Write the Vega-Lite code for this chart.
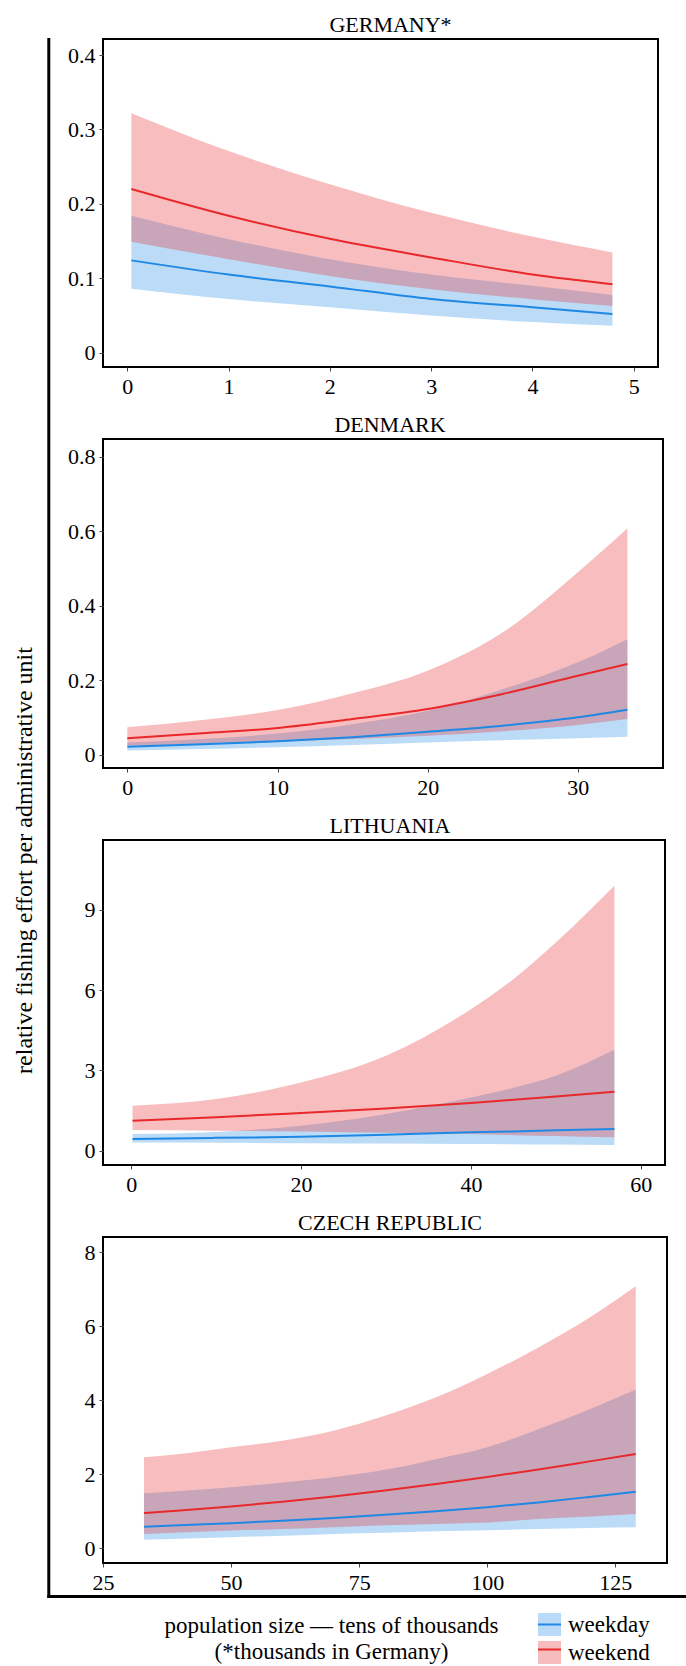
{
  "$schema": "https://vega.github.io/schema/vega-lite/v6.json",
  "padding": {"left": 11, "top": 13, "right": 0, "bottom": 0},
  "background": "white",
  "bounds": "flush",
  "spacing": 72,
  "config": {
    "font": "Liberation Serif",
    "view": {"stroke": "black", "strokeWidth": 2},
    "title": {"font": "Liberation Serif", "fontSize": 22, "fontWeight": "normal", "color": "black", "anchor": "middle", "baseline": "alphabetic", "offset": 2, "frame": "group"},
    "axis": {"labelFont": "Liberation Serif", "labelFontSize": 22, "labelColor": "black", "tickColor": "#444", "tickSize": 4, "tickWidth": 1, "labelPadding": 4, "domain": false, "grid": false, "labelFlush": false, "labelOverlap": false, "titleFont": "Liberation Serif"},
    "axisX": {"labelPadding": 5}
  },
  "datasets": {
    "germany": [
      {"x": 0.04, "period": "weekday", "fit": 0.124, "lo": 0.086, "hi": 0.184},
      {"x": 1, "period": "weekday", "fit": 0.105, "lo": 0.072, "hi": 0.1525},
      {"x": 2, "period": "weekday", "fit": 0.089, "lo": 0.061, "hi": 0.1256},
      {"x": 3, "period": "weekday", "fit": 0.072, "lo": 0.05, "hi": 0.105},
      {"x": 4, "period": "weekday", "fit": 0.061, "lo": 0.041, "hi": 0.0897},
      {"x": 4.79, "period": "weekday", "fit": 0.052, "lo": 0.036, "hi": 0.0775},
      {"x": 0.04, "period": "weekend", "fit": 0.22, "lo": 0.149, "hi": 0.322},
      {"x": 1, "period": "weekend", "fit": 0.184, "lo": 0.1256, "hi": 0.271},
      {"x": 2, "period": "weekend", "fit": 0.153, "lo": 0.103, "hi": 0.2265},
      {"x": 3, "period": "weekend", "fit": 0.128, "lo": 0.085, "hi": 0.188},
      {"x": 4, "period": "weekend", "fit": 0.105, "lo": 0.0717, "hi": 0.156},
      {"x": 4.79, "period": "weekend", "fit": 0.092, "lo": 0.0628, "hi": 0.1346}
    ],
    "denmark": [
      {"x": 0, "period": "weekday", "fit": 0.0215, "lo": 0.011, "hi": 0.033},
      {"x": 5, "period": "weekday", "fit": 0.028, "lo": 0.015, "hi": 0.042},
      {"x": 10, "period": "weekday", "fit": 0.036, "lo": 0.02, "hi": 0.057},
      {"x": 15, "period": "weekday", "fit": 0.047, "lo": 0.026, "hi": 0.082},
      {"x": 20, "period": "weekday", "fit": 0.0617, "lo": 0.033, "hi": 0.118},
      {"x": 25, "period": "weekday", "fit": 0.078, "lo": 0.039, "hi": 0.176},
      {"x": 30, "period": "weekday", "fit": 0.1004, "lo": 0.044, "hi": 0.248},
      {"x": 33.3, "period": "weekday", "fit": 0.121, "lo": 0.048, "hi": 0.31},
      {"x": 0, "period": "weekend", "fit": 0.044, "lo": 0.024, "hi": 0.0735},
      {"x": 5, "period": "weekend", "fit": 0.0574, "lo": 0.029, "hi": 0.093},
      {"x": 10, "period": "weekend", "fit": 0.0716, "lo": 0.035, "hi": 0.12},
      {"x": 15, "period": "weekend", "fit": 0.0958, "lo": 0.042, "hi": 0.165},
      {"x": 20, "period": "weekend", "fit": 0.1227, "lo": 0.051, "hi": 0.2255},
      {"x": 25, "period": "weekend", "fit": 0.163, "lo": 0.063, "hi": 0.3286},
      {"x": 30, "period": "weekend", "fit": 0.212, "lo": 0.08, "hi": 0.49},
      {"x": 33.3, "period": "weekend", "fit": 0.2435, "lo": 0.0958, "hi": 0.608}
    ],
    "lithuania": [
      {"x": 0.15, "period": "weekday", "fit": 0.44, "lo": 0.31, "hi": 0.62},
      {"x": 10, "period": "weekday", "fit": 0.48, "lo": 0.3, "hi": 0.7},
      {"x": 20, "period": "weekday", "fit": 0.52, "lo": 0.28, "hi": 0.93},
      {"x": 30, "period": "weekday", "fit": 0.6, "lo": 0.27, "hi": 1.37},
      {"x": 40, "period": "weekday", "fit": 0.69, "lo": 0.25, "hi": 1.99},
      {"x": 45, "period": "weekday", "fit": 0.72, "lo": 0.24, "hi": 2.35},
      {"x": 50, "period": "weekday", "fit": 0.76, "lo": 0.23, "hi": 2.8},
      {"x": 56.9, "period": "weekday", "fit": 0.81, "lo": 0.21, "hi": 3.77},
      {"x": 0.15, "period": "weekend", "fit": 1.12, "lo": 0.77, "hi": 1.68},
      {"x": 10, "period": "weekend", "fit": 1.25, "lo": 0.75, "hi": 1.93},
      {"x": 20, "period": "weekend", "fit": 1.41, "lo": 0.72, "hi": 2.55},
      {"x": 30, "period": "weekend", "fit": 1.58, "lo": 0.67, "hi": 3.55},
      {"x": 40, "period": "weekend", "fit": 1.78, "lo": 0.62, "hi": 5.29},
      {"x": 45, "period": "weekend", "fit": 1.9, "lo": 0.58, "hi": 6.41},
      {"x": 50, "period": "weekend", "fit": 2.03, "lo": 0.55, "hi": 7.78},
      {"x": 56.9, "period": "weekend", "fit": 2.2, "lo": 0.5, "hi": 9.9}
    ],
    "czech": [
      {"x": 33, "period": "weekday", "fit": 0.585, "lo": 0.23, "hi": 1.49},
      {"x": 40, "period": "weekday", "fit": 0.625, "lo": 0.26, "hi": 1.55},
      {"x": 50, "period": "weekday", "fit": 0.68, "lo": 0.3, "hi": 1.65},
      {"x": 60, "period": "weekday", "fit": 0.745, "lo": 0.34, "hi": 1.78},
      {"x": 70, "period": "weekday", "fit": 0.82, "lo": 0.39, "hi": 1.92},
      {"x": 80, "period": "weekday", "fit": 0.905, "lo": 0.42, "hi": 2.12},
      {"x": 90, "period": "weekday", "fit": 1.0, "lo": 0.46, "hi": 2.41},
      {"x": 100, "period": "weekday", "fit": 1.11, "lo": 0.49, "hi": 2.73},
      {"x": 110, "period": "weekday", "fit": 1.24, "lo": 0.52, "hi": 3.22},
      {"x": 120, "period": "weekday", "fit": 1.39, "lo": 0.55, "hi": 3.76},
      {"x": 129, "period": "weekday", "fit": 1.53, "lo": 0.57, "hi": 4.29},
      {"x": 33, "period": "weekend", "fit": 0.954, "lo": 0.39, "hi": 2.46},
      {"x": 40, "period": "weekend", "fit": 1.02, "lo": 0.43, "hi": 2.55},
      {"x": 50, "period": "weekend", "fit": 1.13, "lo": 0.48, "hi": 2.73},
      {"x": 60, "period": "weekend", "fit": 1.26, "lo": 0.52, "hi": 2.91},
      {"x": 70, "period": "weekend", "fit": 1.4, "lo": 0.57, "hi": 3.18},
      {"x": 80, "period": "weekend", "fit": 1.56, "lo": 0.62, "hi": 3.58},
      {"x": 90, "period": "weekend", "fit": 1.74, "lo": 0.66, "hi": 4.08},
      {"x": 100, "period": "weekend", "fit": 1.93, "lo": 0.7, "hi": 4.71},
      {"x": 110, "period": "weekend", "fit": 2.13, "lo": 0.79, "hi": 5.43},
      {"x": 120, "period": "weekend", "fit": 2.35, "lo": 0.86, "hi": 6.24},
      {"x": 129, "period": "weekend", "fit": 2.55, "lo": 0.93, "hi": 7.08}
    ]
  },
  "vconcat": [
    {
      "title": {"text": "GERMANY*", "dx": 10},
      "width": 555, "height": 328,
      "data": {"name": "germany"},
      "layer": [
        {
          "encoding": {"x": {"field": "x", "type": "quantitative", "title": null, "scale": {"domain": [-0.24, 5.24], "nice": false, "zero": false}, "axis": {"values": [0, 1, 2, 3, 4, 5]}}},
          "layer": [
            {"mark": {"type": "area", "fillOpacity": 0.3, "interpolate": "monotone"},
             "encoding": {
               "y": {"field": "lo", "type": "quantitative", "title": null, "scale": {"domain": [-0.0194, 0.4217], "nice": false, "zero": false}, "axis": {"values": [0, 0.1, 0.2, 0.3, 0.4], "format": "~g"}},
               "y2": {"field": "hi"},
               "fill": {"field": "period", "type": "nominal", "scale": {"domain": ["weekday", "weekend"], "range": ["#1E88E5", "#E8282A"]}, "legend": {"title": null, "orient": "none", "legendX": 434, "legendY": 1573, "symbolType": "square", "symbolSize": 529, "symbolOpacity": 0.3, "symbolStrokeWidth": 2, "symbolStrokeColor": "transparent", "labelFont": "Liberation Serif", "labelFontSize": 23, "labelColor": "black", "labelOffset": 6, "rowPadding": -6, "padding": 0, "zindex": 0}}
             }},
            {"mark": {"type": "line", "strokeWidth": 2, "interpolate": "monotone"},
             "encoding": {
               "y": {"field": "fit", "type": "quantitative", "title": null, "scale": {"domain": [-0.0194, 0.4217], "nice": false, "zero": false}},
               "stroke": {"field": "period", "type": "nominal", "scale": {"range": ["#1E88E5", "#E8282A"]}, "legend": {"title": null, "orient": "none", "legendX": 434, "legendY": 1573, "symbolType": "stroke", "symbolSize": 529, "symbolStrokeWidth": 2, "labelFont": "Liberation Serif", "labelFontSize": 23, "labelColor": "black", "labelOpacity": 0, "labelOffset": 6, "rowPadding": -6, "padding": 0, "zindex": 1}}
             }}
          ]
        },
        {
          "mark": {"type": "point", "opacity": 0},
          "encoding": {
            "x": {"field": "x", "type": "quantitative", "title": ["population size — tens of thousands", "(*thousands in Germany)"],
                  "scale": {"domain": [-0.24, 5.24], "range": [-54.7, 582], "nice": false, "zero": false},
                  "axis": {"orient": "bottom", "offset": 1229, "domain": true, "domainWidth": 3, "domainColor": "black", "domainCap": "square", "ticks": false, "labels": false, "grid": false,
                           "titleX": 228, "titleY": 36, "titleAlign": "center", "titleBaseline": "alphabetic", "titleFont": "Liberation Serif", "titleFontSize": 23, "titleFontWeight": "normal", "titleColor": "black", "titleLineHeight": 26}},
            "y": {"field": "fit", "type": "quantitative", "title": "relative fishing effort per administrative unit",
                  "scale": {"domain": [-0.0194, 0.4217], "range": [1557, 0], "nice": false, "zero": false},
                  "axis": {"orient": "left", "offset": 54.7, "domain": true, "domainWidth": 3, "domainColor": "black", "domainCap": "square", "ticks": false, "labels": false, "grid": false,
                           "titleX": -24, "titleY": 821, "titleAngle": -90, "titleAlign": "center", "titleBaseline": "middle", "titleFont": "Liberation Serif", "titleFontSize": 24, "titleFontWeight": "normal", "titleColor": "black"}}
          }
        }
      ],
      "resolve": {"scale": {"x": "independent", "y": "independent"}, "axis": {"x": "independent", "y": "independent"}}
    },
    {
      "title": {"text": "DENMARK", "dx": 7},
      "width": 560, "height": 329,
      "data": {"name": "denmark"},
      "encoding": {"x": {"field": "x", "type": "quantitative", "title": null, "scale": {"domain": [-1.62, 35.67], "nice": false, "zero": false}, "axis": {"values": [0, 10, 20, 30]}}},
      "layer": [
        {"mark": {"type": "area", "fillOpacity": 0.3, "interpolate": "monotone"},
         "encoding": {
           "y": {"field": "lo", "type": "quantitative", "title": null, "scale": {"domain": [-0.0357, 0.8475], "nice": false, "zero": false}, "axis": {"values": [0, 0.2, 0.4, 0.6, 0.8], "format": "~g"}},
           "y2": {"field": "hi"},
           "fill": {"field": "period", "type": "nominal", "scale": {"domain": ["weekday", "weekend"], "range": ["#1E88E5", "#E8282A"]}}
         }},
        {"mark": {"type": "line", "strokeWidth": 2, "interpolate": "monotone"},
         "encoding": {
           "y": {"field": "fit", "type": "quantitative", "title": null, "scale": {"domain": [-0.0357, 0.8475], "nice": false, "zero": false}},
           "stroke": {"field": "period", "type": "nominal", "scale": {"range": ["#1E88E5", "#E8282A"]}}
         }}
      ]
    },
    {
      "title": {"text": "LITHUANIA", "dx": 6},
      "width": 562, "height": 325,
      "data": {"name": "lithuania"},
      "encoding": {"x": {"field": "x", "type": "quantitative", "title": null, "scale": {"domain": [-3.33, 62.86], "nice": false, "zero": false}, "axis": {"values": [0, 20, 40, 60]}}},
      "layer": [
        {"mark": {"type": "area", "fillOpacity": 0.3, "interpolate": "monotone"},
         "encoding": {
           "y": {"field": "lo", "type": "quantitative", "title": null, "scale": {"domain": [-0.534, 11.61], "nice": false, "zero": false}, "axis": {"values": [0, 3, 6, 9]}},
           "y2": {"field": "hi"},
           "fill": {"field": "period", "type": "nominal", "scale": {"domain": ["weekday", "weekend"], "range": ["#1E88E5", "#E8282A"]}}
         }},
        {"mark": {"type": "line", "strokeWidth": 2, "interpolate": "monotone"},
         "encoding": {
           "y": {"field": "fit", "type": "quantitative", "title": null, "scale": {"domain": [-0.534, 11.61], "nice": false, "zero": false}},
           "stroke": {"field": "period", "type": "nominal", "scale": {"range": ["#1E88E5", "#E8282A"]}}
         }}
      ]
    },
    {
      "title": {"text": "CZECH REPUBLIC", "dx": 5},
      "width": 564, "height": 326,
      "data": {"name": "czech"},
      "encoding": {"x": {"field": "x", "type": "quantitative", "title": null, "scale": {"domain": [25, 135.1], "nice": false, "zero": false}, "axis": {"values": [25, 50, 75, 100, 125]}}},
      "layer": [
        {"mark": {"type": "area", "fillOpacity": 0.3, "interpolate": "monotone"},
         "encoding": {
           "y": {"field": "lo", "type": "quantitative", "title": null, "scale": {"domain": [-0.397, 8.414], "nice": false, "zero": false}, "axis": {"values": [0, 2, 4, 6, 8]}},
           "y2": {"field": "hi"},
           "fill": {"field": "period", "type": "nominal", "scale": {"domain": ["weekday", "weekend"], "range": ["#1E88E5", "#E8282A"]}}
         }},
        {"mark": {"type": "line", "strokeWidth": 2, "interpolate": "monotone"},
         "encoding": {
           "y": {"field": "fit", "type": "quantitative", "title": null, "scale": {"domain": [-0.397, 8.414], "nice": false, "zero": false}},
           "stroke": {"field": "period", "type": "nominal", "scale": {"range": ["#1E88E5", "#E8282A"]}}
         }}
      ]
    }
  ]
}
